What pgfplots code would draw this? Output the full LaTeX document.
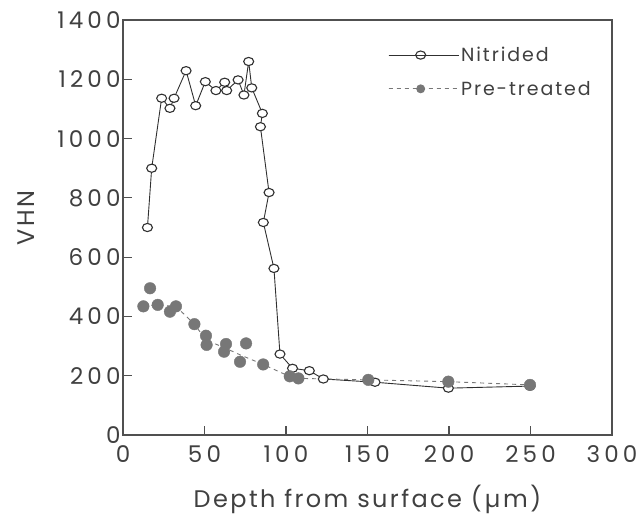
\documentclass[border=0pt]{standalone}
\usepackage{fontspec}
\setmainfont{Poppins}
\newfontfamily\tickfont[LetterSpace=18]{Poppins}
\newfontfamily\labfont[LetterSpace=10]{Poppins}
\usepackage{pgfplots}
\pgfplotsset{compat=1.18}
\definecolor{axisgray}{HTML}{505050}
\definecolor{txtgray}{HTML}{404040}
\definecolor{pregray}{HTML}{777777}
\definecolor{nitgray}{HTML}{303030}
\begin{document}
\begin{tikzpicture}
\begin{axis}[
  scale only axis, width=489pt, height=415pt,
  xmin=0, xmax=300, ymin=0, ymax=1400,
  xtick={0,50,...,300}, ytick={0,200,...,1400},
  tick align=inside, xtick pos=bottom, ytick pos=left,
  major tick length=9pt,
  axis line style={axisgray, line width=1.4pt},
  every tick/.style={axisgray, line width=1.2pt},
  tick label style={font=\tickfont\fontsize{23}{25}\selectfont, text=txtgray},
  /pgf/number format/assume math mode=true,
  /pgf/number format/1000 sep={},
  xticklabel style={yshift=-7pt},
  yticklabel style={xshift=1pt},
  xlabel={Depth from surface (\hspace{3pt}µ\hspace{3pt}m)},
  ylabel={VHN},
  label style={font=\labfont\fontsize{24}{26}\selectfont, text=txtgray},
  xlabel style={at={(axis description cs:0.5,-0.154)}, anchor=center},
  ylabel style={at={(axis description cs:-0.198,0.523)}, anchor=center},
  legend style={draw=none, fill=none, at={(0.542,0.94)}, anchor=north west,
    font=\labfont\fontsize{19}{21}\selectfont, text=txtgray, row sep=14pt, inner sep=0pt,
    legend cell align=left},
  legend image code/.code={\draw[mark repeat=2,mark phase=2,#1] plot coordinates {(0pt,0pt) (32pt,0pt) (64pt,0pt)}; \path (0pt,0pt) -- (70pt,0pt);},
]
\addplot[nitgray, line width=0.9pt, mark=*, mark size=5pt,
  mark options={fill=white, draw=nitgray, line width=1.1pt, solid, yscale=0.82}]
  coordinates {
  (15,700) (17.6,900) (23.7,1136) (28.8,1102) (31.3,1136) (38.7,1229)
  (44.6,1111) (50.5,1192) (57,1162) (62.4,1190) (63.6,1162) (70.6,1198)
  (74.2,1147) (77.1,1260) (79,1171) (85.5,1085) (84.3,1040) (89.6,818)
  (86.1,717) (92.6,562) (96.3,273) (104,225) (114.3,217) (122.9,189)
  (154.6,178) (199.6,158) (249.7,165)
  };
\addlegendentry{Nitrided}
\addplot[pregray, line width=0.9pt, dash pattern=on 4pt off 4pt, forget plot]
  coordinates {
  (12.5,434) (21.3,439) (32.5,434) (43.8,374) (51,320) (62.5,294) (72,270)
  (86,238) (102,198) (108,191) (150.5,186) (199.6,180) (249.7,169)
  };
\addplot[only marks, mark=*, mark size=5.8pt, pregray, mark options={fill=pregray, draw=pregray}, forget plot]
  coordinates {
  (12.5,434) (16.6,495) (21.3,439) (28.8,416) (32.5,434) (43.8,374)
  (50.9,335) (51.3,304) (62,281) (63.2,307) (71.8,247) (75.5,309)
  (86,238) (102.3,198) (107.6,191) (150.5,186) (199.6,180) (249.7,169)
  };
\addlegendimage{pregray, line width=0.9pt, dash pattern=on 4pt off 4pt, mark=*, mark size=4pt, mark options={solid, fill=pregray}}
\addlegendentry{Pre-treated}
\end{axis}
\pgfresetboundingbox
\path[use as bounding box] ([xshift=-123pt,yshift=-82pt]current axis.south west) rectangle ([xshift=26pt,yshift=20pt]current axis.north east);
\end{tikzpicture}
\end{document}
